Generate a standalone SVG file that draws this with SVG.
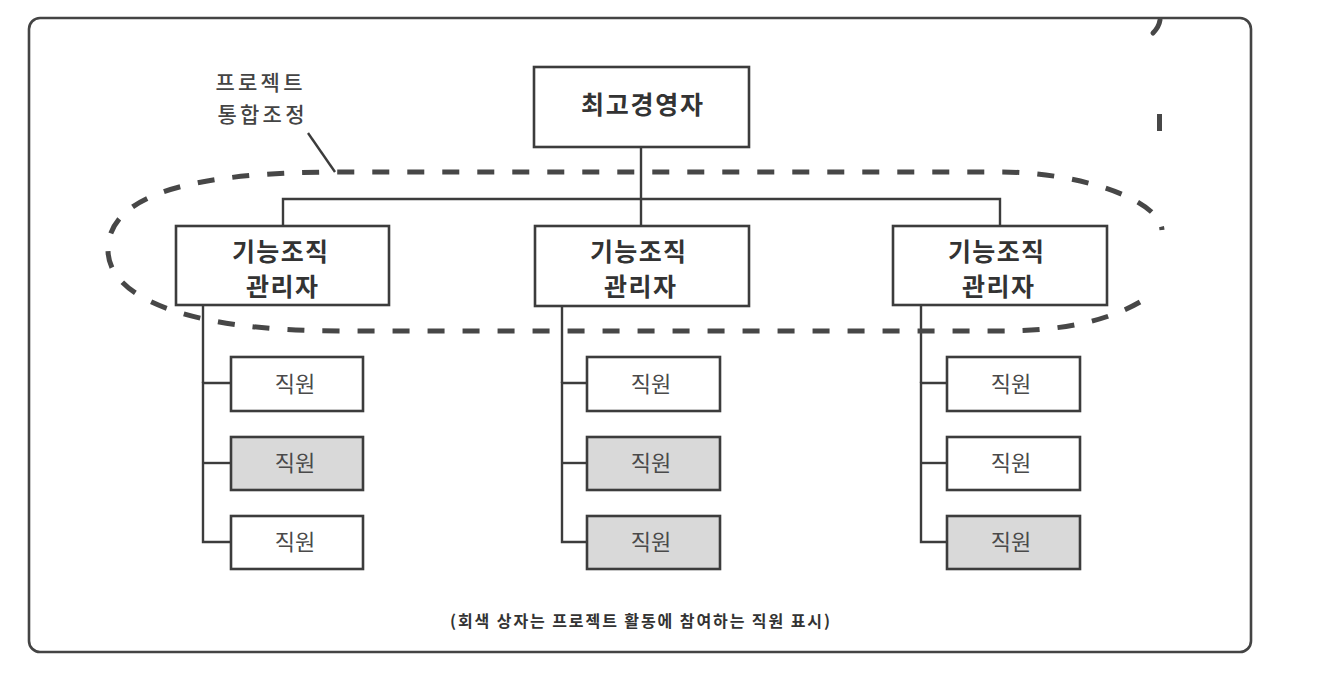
<svg xmlns="http://www.w3.org/2000/svg" width="1322" height="680" viewBox="0 0 1322 680">
<style>
.box{fill:#fff;stroke:#3c3c3c;stroke-width:2.6}
.gray{fill:#d9d9d9;stroke:#3c3c3c;stroke-width:2.6}
.ln{fill:none;stroke:#3c3c3c;stroke-width:2.4}
.b{font-family:"Noto Sans CJK KR","Noto Sans",sans-serif;font-weight:700;font-size:25px;fill:#333;text-anchor:middle}
.s{font-family:"Noto Sans CJK KR","Noto Sans",sans-serif;font-weight:400;font-size:22px;fill:#4a4a4a;text-anchor:middle}
.lab{font-family:"Noto Sans CJK KR","Noto Sans",sans-serif;font-weight:500;font-size:21px;fill:#444;text-anchor:middle}
.cap{font-family:"Noto Sans CJK KR","Noto Sans",sans-serif;font-weight:700;font-size:16px;fill:#333;text-anchor:middle}
.dash{fill:none;stroke:#474747;stroke-width:5;stroke-dasharray:17 18}
</style>
<rect x="0" y="0" width="1322" height="680" fill="#fff"/>
<rect x="29" y="18" width="1222" height="634" rx="11" ry="11" fill="none" stroke="#444" stroke-width="2.6"/>
<path d="M1153 33 Q1159 27 1160 20" fill="none" stroke="#474747" stroke-width="5" stroke-linecap="round"/>
<rect x="1157" y="114" width="5" height="17" fill="#474747"/>

<g id="connectors">
<line class="ln" x1="641" y1="147" x2="641" y2="226"/>
<polyline class="ln" points="283,226 283,199 1000,199 1000,226"/>
<polyline class="ln" points="231,383 203,383 203,542 231,542"/>
<line class="ln" x1="203" y1="305" x2="203" y2="383"/>
<line class="ln" x1="203" y1="463" x2="231" y2="463"/>
<polyline class="ln" points="587,383 562,383 562,542 587,542"/>
<line class="ln" x1="562" y1="306" x2="562" y2="383"/>
<line class="ln" x1="562" y1="463" x2="587" y2="463"/>
<polyline class="ln" points="947,383 921,383 921,542 947,542"/>
<line class="ln" x1="921" y1="305" x2="921" y2="383"/>
<line class="ln" x1="921" y1="463" x2="947" y2="463"/>
<line class="ln" x1="308" y1="133" x2="335" y2="172" stroke-width="2.6"/>
</g>

<g id="project-group">
<path class="dash" d="M1140 302 C1105 322 1060 331 1000 331 L340 331 C180 331 108 295 108 250 C108 195 190 172 340 172 L1000 172 C1080 172 1160 200 1162 230"/>
</g>

<g id="label-project">
<text class="lab" x="259" y="90" textLength="87" lengthAdjust="spacing">프로젝트</text>
<text class="lab" x="261" y="122" textLength="87" lengthAdjust="spacing">통합조정</text>
</g>

<g id="ceo">
<rect class="box" x="534" y="67" width="215" height="80"/>
<text class="b" x="642" y="114" textLength="122" lengthAdjust="spacing">최고경영자</text>
</g>

<g id="mgr1">
<rect class="box" x="176" y="226" width="213" height="79"/>
<text class="b" x="280" y="261" textLength="96" lengthAdjust="spacing">기능조직</text>
<text class="b" x="282" y="296" textLength="72" lengthAdjust="spacing">관리자</text>
</g>
<g id="mgr2">
<rect class="box" x="535" y="226" width="214" height="80"/>
<text class="b" x="638" y="261" textLength="96" lengthAdjust="spacing">기능조직</text>
<text class="b" x="640" y="296" textLength="72" lengthAdjust="spacing">관리자</text>
</g>
<g id="mgr3">
<rect class="box" x="893" y="226" width="214" height="79"/>
<text class="b" x="996" y="261" textLength="96" lengthAdjust="spacing">기능조직</text>
<text class="b" x="998" y="296" textLength="72" lengthAdjust="spacing">관리자</text>
</g>

<g id="s1a"><rect class="box" x="231" y="357" width="132" height="54"/><text class="s" x="295" y="392">직원</text></g>
<g id="s1b"><rect class="gray" x="231" y="437" width="132" height="53"/><text class="s" x="295" y="471">직원</text></g>
<g id="s1c"><rect class="box" x="231" y="516" width="132" height="53"/><text class="s" x="295" y="550">직원</text></g>

<g id="s2a"><rect class="box" x="587" y="357" width="133" height="54"/><text class="s" x="651" y="392">직원</text></g>
<g id="s2b"><rect class="gray" x="587" y="437" width="133" height="53"/><text class="s" x="651" y="471">직원</text></g>
<g id="s2c"><rect class="gray" x="587" y="516" width="133" height="53"/><text class="s" x="651" y="550">직원</text></g>

<g id="s3a"><rect class="box" x="947" y="357" width="133" height="54"/><text class="s" x="1011" y="392">직원</text></g>
<g id="s3b"><rect class="box" x="947" y="437" width="133" height="53"/><text class="s" x="1011" y="471">직원</text></g>
<g id="s3c"><rect class="gray" x="947" y="516" width="133" height="53"/><text class="s" x="1011" y="550">직원</text></g>

<g id="caption">
<text class="cap" x="640" y="627" textLength="380" lengthAdjust="spacing">(회색 상자는 프로젝트 활동에 참여하는 직원 표시)</text>
</g>
</svg>
